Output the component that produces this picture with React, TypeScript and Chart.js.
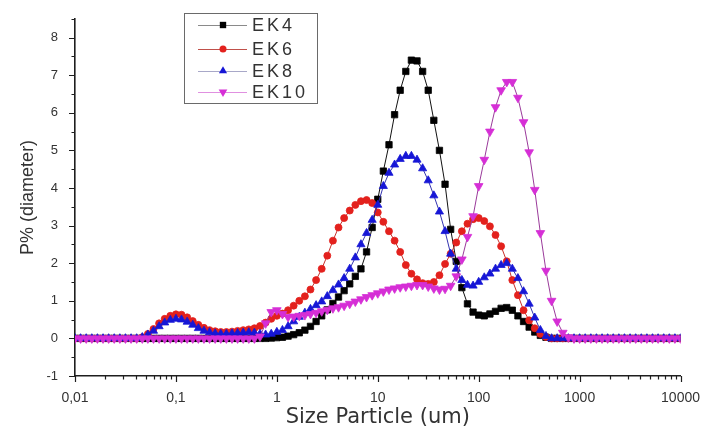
import React, { useEffect, useRef } from 'react';
import { Chart, registerables } from 'chart.js';

Chart.register(...registerables);

// Particle size classes (um), log-spaced bins
const sizes = [
  0.01, 0.01136, 0.01292, 0.01468, 0.01668, 0.01896, 0.02154, 0.02448, 0.02783, 0.03162, 0.03594, 0.04084, 0.04642, 0.05275, 0.05995, 0.06813, 0.07743, 0.08799,
  0.1, 0.1136, 0.1292, 0.1468, 0.1668, 0.1896, 0.2154, 0.2448, 0.2783, 0.3162, 0.3594, 0.4084, 0.4642, 0.5275, 0.5995, 0.6813, 0.7743, 0.8799,
  1, 1.136, 1.292, 1.468, 1.668, 1.896, 2.154, 2.448, 2.783, 3.162, 3.594, 4.084, 4.642, 5.275, 5.995, 6.813, 7.743, 8.799,
  10, 11.36, 12.92, 14.68, 16.68, 18.96, 21.54, 24.48, 27.83, 31.62, 35.94, 40.84, 46.42, 52.75, 59.95, 68.13, 77.43, 87.99,
  100, 113.6, 129.2, 146.8, 166.8, 189.6, 215.4, 244.8, 278.3, 316.2, 359.4, 408.4, 464.2, 527.5, 599.5, 681.3, 774.3, 879.9,
  1000, 1136, 1292, 1468, 1668, 1896, 2154, 2448, 2783, 3162, 3594, 4084, 4642, 5275, 5995, 6813, 7743, 8799,
  10000,
];

const ek4 = [
  0, 0, 0, 0, 0, 0, 0, 0, 0, 0, 0, 0, 0, 0, 0, 0, 0, 0,
  0, 0, 0, 0, 0, 0, 0, 0, 0, 0, 0, 0, 0, 0, 0, 0, 0, 0.01,
  0.02, 0.03, 0.06, 0.1, 0.15, 0.22, 0.32, 0.45, 0.6, 0.76, 0.93, 1.1, 1.27, 1.45, 1.65, 1.85, 2.3, 2.95,
  3.7, 4.45, 5.15, 5.95, 6.6, 7.1, 7.4, 7.38, 7.1, 6.6, 5.8, 5.0, 4.1, 2.9, 2.05, 1.35, 0.92, 0.7,
  0.62, 0.6, 0.65, 0.72, 0.8, 0.82, 0.75, 0.6, 0.45, 0.3, 0.17, 0.08, 0.03, 0, 0, 0, 0, 0,
  0, 0, 0, 0, 0, 0, 0, 0, 0, 0, 0, 0, 0, 0, 0, 0, 0, 0,
  0,
];

const ek6 = [
  0, 0, 0, 0, 0, 0, 0, 0, 0, 0, 0, 0, 0.03, 0.12, 0.25, 0.4, 0.52, 0.6,
  0.64, 0.63, 0.56, 0.46, 0.36, 0.28, 0.22, 0.19, 0.17, 0.17, 0.18, 0.2, 0.22, 0.24, 0.27, 0.33, 0.42, 0.52,
  0.6, 0.66, 0.75, 0.87, 1.0, 1.12, 1.3, 1.55, 1.85, 2.2, 2.6, 2.95, 3.2, 3.4, 3.55, 3.65, 3.68, 3.6,
  3.35, 3.1, 2.85, 2.6, 2.3, 1.95, 1.72, 1.57, 1.47, 1.45, 1.5, 1.68, 1.98, 2.25, 2.55, 2.85, 3.05, 3.17,
  3.2, 3.12, 2.98, 2.75, 2.45, 2.05, 1.55, 1.15, 0.75, 0.48, 0.27, 0.12, 0.04, 0, 0, 0, 0, 0,
  0, 0, 0, 0, 0, 0, 0, 0, 0, 0, 0, 0, 0, 0, 0, 0, 0, 0,
  0,
];

const ek8 = [
  0, 0, 0, 0, 0, 0, 0, 0, 0, 0, 0, 0, 0.03, 0.1, 0.2, 0.32, 0.42, 0.49,
  0.52, 0.5, 0.44, 0.36, 0.27, 0.2, 0.16, 0.13, 0.12, 0.12, 0.13, 0.14, 0.15, 0.16, 0.15, 0.12, 0.1, 0.12,
  0.17, 0.22, 0.32, 0.45, 0.57, 0.68, 0.78, 0.88, 0.98, 1.12, 1.28, 1.43, 1.6, 1.85, 2.15, 2.5, 2.8, 3.15,
  3.55, 4.05, 4.4, 4.62, 4.77, 4.85, 4.85, 4.75, 4.52, 4.2, 3.8, 3.37, 2.85, 2.25, 1.85, 1.55, 1.42, 1.4,
  1.5, 1.62, 1.72, 1.85, 1.95, 2.0, 1.85, 1.6, 1.25, 0.92, 0.55, 0.22, 0.06, 0, 0, 0, 0, 0,
  0, 0, 0, 0, 0, 0, 0, 0, 0, 0, 0, 0, 0, 0, 0, 0, 0, 0,
  0,
];

const ek10 = [
  0, 0, 0, 0, 0, 0, 0, 0, 0, 0, 0, 0, 0, 0, 0, 0, 0, 0,
  0, 0, 0, 0, 0, 0, 0, 0, 0, 0, 0, 0, 0, 0, 0, 0.05, 0.4, 0.7,
  0.75, 0.65, 0.57, 0.58, 0.6, 0.62, 0.65, 0.68, 0.72, 0.76, 0.8, 0.83, 0.87, 0.92, 0.98, 1.04, 1.1, 1.15,
  1.2, 1.25, 1.3, 1.33, 1.36, 1.38, 1.4, 1.42, 1.42, 1.38, 1.33, 1.3, 1.32, 1.4, 1.65, 2.1, 2.7, 3.25,
  4.05, 4.75, 5.5, 6.15, 6.6, 6.82, 6.82, 6.4, 5.75, 4.95, 3.95, 2.8, 1.8, 1.0, 0.45, 0.15, 0.03, 0,
  0, 0, 0, 0, 0, 0, 0, 0, 0, 0, 0, 0, 0, 0, 0, 0, 0, 0,
  0,
];

const seriesLabels = ['EK4', 'EK6', 'EK8', 'EK10'];
const xTickValues = [0.01, 0.1, 1, 10, 100, 1000, 10000];
const xTickLabels = ['0,01', '0,1', '1', '10', '100', '1000', '10000'];
const xMinorMultipliers = [2, 3, 4, 5, 6, 7, 8, 9];
const yTickValues = [-1, 0, 1, 2, 3, 4, 5, 6, 7, 8];

const FONT = "'Liberation Sans', Arial, Helvetica, sans-serif";
const WIDE_FONT = "'DejaVu Sans', 'Liberation Sans', Arial, sans-serif";
const TEXT = '#333333';
const AXIS = '#1e1e1e';

const styles = [
  { color: '#000000', line: '#111111', legendLine: '#8a8a8a', point: 'rect', radius: 4.5, rotation: 0 },
  { color: '#e3211d', line: '#c8302a', legendLine: '#c0504a', point: 'circle', radius: 3.5, rotation: 0 },
  { color: '#1616d6', line: '#3434b0', legendLine: '#a8a8c8', point: 'triangle', radius: 4.7, rotation: 0 },
  { color: '#d62ed6', line: '#9a3a9a', legendLine: '#e090e0', point: 'triangle', radius: 5, rotation: 180 },
];

const seriesValues = [ek4, ek6, ek8, ek10];

function drawMarker(ctx: CanvasRenderingContext2D, kind: string, rotation: number, x: number, y: number, r: number) {
  ctx.beginPath();
  if (kind === 'rect') {
    const s = r * Math.SQRT1_2;
    ctx.rect(x - s, y - s, 2 * s, 2 * s);
  } else if (kind === 'circle') {
    ctx.arc(x, y, r, 0, Math.PI * 2);
  } else {
    const rad = (rotation * Math.PI) / 180;
    for (let k = 0; k < 3; k++) {
      const a = rad + (k * 2 * Math.PI) / 3;
      const px = x + Math.sin(a) * r;
      const py = y - Math.cos(a) * r;
      if (k === 0) ctx.moveTo(px, py);
      else ctx.lineTo(px, py);
    }
    ctx.closePath();
  }
  ctx.fill();
}

const axisTicksPlugin = {
  id: 'axisTicks',
  afterDraw(chart: any) {
    const { ctx, chartArea } = chart;
    const xs = chart.scales.x;
    const ys = chart.scales.y;
    ctx.save();
    ctx.strokeStyle = AXIS;
    ctx.lineWidth = 1.2;
    ctx.beginPath();
    const yb = chartArea.bottom;
    xTickValues.forEach((v, k) => {
      const p = Math.round(xs.getPixelForValue(v)) + 0.5;
      ctx.moveTo(p, yb);
      ctx.lineTo(p, yb + 6);
      if (k < xTickValues.length - 1) {
        xMinorMultipliers.forEach((m) => {
          const q = Math.round(xs.getPixelForValue(v * m)) + 0.5;
          ctx.moveTo(q, yb);
          ctx.lineTo(q, yb + 3.5);
        });
      }
    });
    const xl = chartArea.left;
    yTickValues.forEach((v) => {
      const p = Math.round(ys.getPixelForValue(v)) + 0.5;
      ctx.moveTo(xl, p);
      ctx.lineTo(xl - 6, p);
      const q = Math.round(ys.getPixelForValue(v + 0.5)) + 0.5;
      ctx.moveTo(xl, q);
      ctx.lineTo(xl - 3.5, q);
    });
    ctx.stroke();
    ctx.restore();
  },
};

const boxLegendPlugin = {
  id: 'boxLegend',
  afterDraw(chart: any) {
    const { ctx } = chart;
    const left = 184;
    const top = 13;
    const width = 133;
    const height = 90;
    const rowY = [25, 49, 71, 92];
    ctx.save();
    ctx.fillStyle = '#ffffff';
    ctx.fillRect(left, top, width, height);
    ctx.strokeStyle = '#6a6a6a';
    ctx.lineWidth = 1;
    ctx.strokeRect(left + 0.5, top + 0.5, width, height);
    chart.data.datasets.forEach((ds: any, i: number) => {
      const st = styles[i];
      const y = rowY[i];
      ctx.strokeStyle = st.legendLine;
      ctx.lineWidth = 1.2;
      ctx.beginPath();
      ctx.moveTo(198, y + 0.5);
      ctx.lineTo(247, y + 0.5);
      ctx.stroke();
      ctx.fillStyle = st.color;
      drawMarker(ctx, st.point, st.rotation, 223, y, st.radius);
      ctx.fillStyle = TEXT;
      ctx.font = `18px ${FONT}`;
      (ctx as any).letterSpacing = '3px';
      ctx.textAlign = 'left';
      ctx.textBaseline = 'middle';
      ctx.fillText(ds.label, 252, y + 1);
      (ctx as any).letterSpacing = '0px';
    });
    ctx.restore();
  },
};

export default function App() {
  const canvasRef = useRef<HTMLCanvasElement | null>(null);

  useEffect(() => {
    const canvas = canvasRef.current;
    if (!canvas) return;
    const datasets = seriesLabels.map((label, i) => {
      const st = styles[i];
      return {
        label,
        data: sizes.map((x, k) => ({ x, y: seriesValues[i][k] })),
        borderColor: st.line,
        borderWidth: 1,
        backgroundColor: st.color,
        pointStyle: st.point,
        pointRotation: st.rotation,
        pointRadius: st.radius,
        pointBackgroundColor: st.color,
        pointBorderColor: st.color,
        pointBorderWidth: 0.8,
        tension: 0,
        fill: false,
        order: seriesLabels.length - i,
      };
    });

    const chart = new Chart(canvas, {
      type: 'line',
      data: { datasets } as any,
      options: {
        responsive: false,
        animation: false,
        devicePixelRatio: 1,
        events: [],
        layout: { padding: { top: 15, right: 25, left: 0, bottom: 0 } },
        plugins: {
          legend: { display: false },
          tooltip: { enabled: false },
        },
        scales: {
          x: {
            type: 'logarithmic',
            min: 0.01,
            max: 10000,
            afterFit: (scale: any) => {
              scale.height = 55;
            },
            border: { display: true, color: AXIS, width: 1.6 },
            grid: { display: true, drawOnChartArea: false, drawTicks: true, tickLength: 6, tickColor: 'rgba(0,0,0,0)' },
            ticks: {
              autoSkip: false,
              maxRotation: 0,
              padding: 8,
              color: TEXT,
              font: { family: FONT, size: 14 },
              callback: (value: any) => {
                const v = Number(value);
                const idx = xTickValues.findIndex((t) => Math.abs(Math.log10(v) - Math.log10(t)) < 1e-6);
                return idx >= 0 ? xTickLabels[idx] : '';
              },
            },
            title: {
              display: true,
              text: 'Size Particle (um)',
              color: TEXT,
              font: { family: WIDE_FONT, size: 21 },
              padding: { top: 0, bottom: 1 },
            },
          },
          y: {
            type: 'linear',
            min: -1,
            max: 8.5,
            afterFit: (scale: any) => {
              scale.width = 75;
            },
            border: { display: true, color: AXIS, width: 1.6 },
            grid: { display: true, drawOnChartArea: false, drawTicks: true, tickLength: 6, tickColor: 'rgba(0,0,0,0)' },
            ticks: {
              stepSize: 1,
              includeBounds: false,
              padding: 11,
              color: TEXT,
              font: { family: FONT, size: 13 },
              callback: (value: any) => (Number.isInteger(Number(value)) ? String(value) : ''),
            },
            title: {
              display: true,
              text: 'P% (diameter)',
              color: TEXT,
              font: { family: FONT, size: 18 },
              padding: { top: 17, bottom: 0 },
            },
          },
        },
      } as any,
      plugins: [axisTicksPlugin, boxLegendPlugin],
    });

    return () => {
      chart.destroy();
    };
  }, []);

  return (
    <div style={{ position: 'absolute', left: 0, top: 0, width: 708, height: 431, background: '#ffffff' }}>
      <canvas ref={canvasRef} width={708} height={431} style={{ width: 708, height: 431, display: 'block' }} />
    </div>
  );
}
